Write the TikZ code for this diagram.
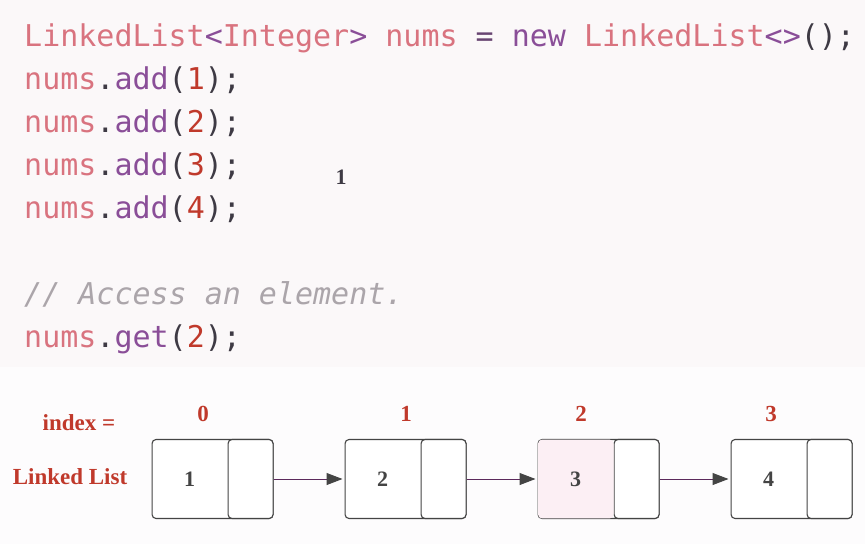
\documentclass[tikz,border=0pt]{standalone}
\usepackage{fontspec}
\usepackage{xcolor}
\usetikzlibrary{arrows.meta, positioning, calc}
\setmainfont{Liberation Serif}
\newfontfamily\codefont{DejaVu Sans Mono}
\definecolor{codebg}{HTML}{FBF8F9}
\definecolor{pagebg}{HTML}{FDFCFD}
\definecolor{typ}{HTML}{D9737F}
\definecolor{kw}{HTML}{8A4E98}
\definecolor{punc}{HTML}{3E3A44}
\definecolor{lit}{HTML}{C0392B}
\definecolor{cmt}{HTML}{ABA5AA}
\definecolor{lbl}{HTML}{C0392B}
\definecolor{ink}{HTML}{444444}
\definecolor{hit}{HTML}{FCEFF4}
\def\cellsep{193}

\begin{document}
\begin{tikzpicture}[x=1pt,y=-1pt]
    \tikzstyle{code}=[anchor=base west, inner sep=0pt, font=\codefont\fontsize{30}{36}\selectfont]
    \tikzstyle{annot}=[inner sep=0pt, text=lbl, font=\bfseries\fontsize{23}{28}\selectfont]
    \tikzstyle{cell}=[draw=ink, line width=1.1pt, rounded corners=4pt, minimum width=121pt, minimum height=79pt, anchor=west, inner sep=0pt, fill=white]
    \tikzstyle{pointer}=[cell, minimum width=45pt, anchor=east]
    \tikzstyle{value}=[inner sep=0pt, text=ink, font=\bfseries\fontsize{22}{26}\selectfont]
    \tikzstyle{link}=[draw=ink!60!violet, line width=1pt, shorten >=2pt, -{Triangle[length=16pt,width=12pt,color=ink]}]

    % background of the code area and of the list area
    \useasboundingbox (0,0) rectangle (865,544);
    \fill[pagebg] (0,0) rectangle (865,544);
    \fill[codebg] (0,0) rectangle (865,367);

    % the code lines
    \node[code] (c-1) at (24,46) {\textcolor{typ}{LinkedList}\textcolor{kw}{<}\textcolor{typ}{Integer}\textcolor{kw}{>} \textcolor{typ}{nums} \textcolor{kw!55!punc}{=} \textcolor{kw}{new} \textcolor{typ}{LinkedList}\textcolor{kw}{<>}\textcolor{punc}{();}};
    \foreach \n / \y in {1/89,2/132,3/175,4/218}
        \node[code] (c-\n) at (24,\y) {\textcolor{typ}{nums}\textcolor{punc}{.}\textcolor{kw}{add}\textcolor{punc}{(}\textcolor{lit}{\n}\textcolor{punc}{);}};
    \node[code] (cmt) at (24,304) {\textcolor{cmt}{\itshape // Access an element.}};
    \node[code] (get) at (24,347) {\textcolor{typ}{nums}\textcolor{punc}{.}\textcolor{kw}{get}\textcolor{punc}{(}\textcolor{lit}{2}\textcolor{punc}{);}};

    % the stray value
    \node[value, text=punc] (stray) at (341,177) {1};

    % row labels
    \node[annot] (idx) at (79,423) {index =};
    \node[annot] (ll) at (70,477) {Linked List};

    % Draw the list cells
    \foreach \i / \v in {1/1,2/2,3/3,4/4}
    {
        \node[cell] (D-\i) at ({151.5+\cellsep*(\i-1)},479) {};
        \node[pointer] (P-\i) at (D-\i.east) {};
        \node[value] (V-\i) at ($(D-\i.west)!0.5!(P-\i.west)$) {\v};
    }
    % the accessed element
    \fill[hit, rounded corners=4pt] ([xshift=0.6pt,yshift=0.6pt]D-3.south west) rectangle ([yshift=-0.6pt]P-3.north west);
    \node[value] at (V-3) {3};

    % index numbers
    \foreach \i / \x in {0/203,1/406,2/581,3/771}
        \node[annot] (I-\i) at (\x,414) {\i};

    % Connect every cell with the next one
    \foreach \a / \b in {1/2,2/3,3/4}
        \draw[link] (P-\a.east) -- (D-\b.west);
\end{tikzpicture}
\end{document}
